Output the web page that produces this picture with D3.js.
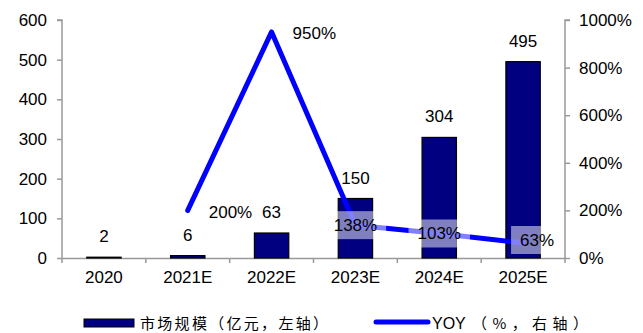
<!DOCTYPE html>
<html>
<head>
<meta charset="utf-8">
<script src="https://cdn.jsdelivr.net/npm/d3@7"></script>
<style>
  html, body { margin: 0; padding: 0; background: #fff; }
  svg text { font-family: "Liberation Sans", Arial, sans-serif; fill: #000; }
</style>
</head>
<body>
<svg id="chart" width="643" height="333"></svg>
<script>
// Market size (亿元) and YoY growth (%) by year
const categories = ["2020", "2021E", "2022E", "2023E", "2024E", "2025E"];
const marketSize = [2, 6, 63, 150, 304, 495];
const yoy = [null, 200, 950, 138, 103, 63];
const leftTicks = [0, 100, 200, 300, 400, 500, 600];
const rightTicks = [0, 200, 400, 600, 800, 1000];
const legendBar = "市场规模（亿元，左轴）";
const legendLineName = "YOY";
const legendLineNote = "（%，右轴）";

const svg = d3.select("#chart");
const plotLeft = 62, plotRight = 565, plotTop = 20, plotBottom = 258;
const axisColor = "#999999";
const fontSize = 17;
const cjkFont = "'Noto Sans CJK SC', sans-serif";

const x = d3.scaleBand().domain(categories).range([plotLeft, plotRight]).padding(0);
const yL = d3.scaleLinear().domain([0, 600]).range([plotBottom, plotTop]);
const yR = d3.scaleLinear().domain([0, 1000]).range([plotBottom, plotTop]);
const barW = x.bandwidth() * 0.41;
const cx = d => x(d) + x.bandwidth() / 2;

// Axes
const gL = svg.append("g").attr("transform", `translate(${plotLeft},0)`)
  .call(d3.axisLeft(yL).tickValues(leftTicks).tickSize(5).tickPadding(10));
const gR = svg.append("g").attr("transform", `translate(${plotRight},0)`)
  .call(d3.axisRight(yR).tickValues(rightTicks).tickSize(5).tickPadding(9)
    .tickFormat(d => d + "%"));
const gX = svg.append("g").attr("transform", `translate(0,${plotBottom})`)
  .call(d3.axisBottom(x).tickSize(0).tickPadding(13));
// category boundary ticks
gX.selectAll(".boundary").data(d3.range(categories.length + 1)).enter()
  .append("line").attr("class", "boundary")
  .attr("x1", i => plotLeft + i * x.bandwidth()).attr("x2", i => plotLeft + i * x.bandwidth())
  .attr("y1", 0).attr("y2", 5);

[gL, gR, gX].forEach(g => {
  g.selectAll("path.domain").attr("stroke", axisColor).attr("stroke-width", 1.5);
  g.selectAll("line").attr("stroke", axisColor).attr("stroke-width", 1.5);
  g.selectAll("text").attr("font-size", fontSize)
    .attr("font-family", "'Liberation Sans', Arial, sans-serif").attr("fill", "#000");
});
gL.select("path.domain").attr("d", `M-5,${plotTop}H0V${plotBottom}`);
gR.select("path.domain").attr("d", `M5,${plotTop}H0V${plotBottom}`);

// Bars
svg.append("g").selectAll("rect").data(categories).enter().append("rect")
  .attr("x", d => cx(d) - barW / 2)
  .attr("y", (d, i) => yL(marketSize[i]))
  .attr("width", barW)
  .attr("height", (d, i) => plotBottom - yL(marketSize[i]))
  .attr("fill", "#000080").attr("stroke", "#000").attr("stroke-width", 1.2);

// YoY line
const lineData = categories.map((c, i) => ({ c, v: yoy[i] })).filter(d => d.v != null);
svg.append("path").datum(lineData)
  .attr("d", d3.line().x(d => cx(d.c)).y(d => yR(d.v)))
  .attr("fill", "none").attr("stroke", "#0000FF").attr("stroke-width", 5)
  .attr("stroke-linecap", "round").attr("stroke-linejoin", "round");

// YoY labels: first two sit to the right of the point, the rest centred on it
const labelG = svg.append("g");
lineData.forEach((d, k) => {
  const px = cx(d.c), py = yR(d.v);
  const g = labelG.append("g");
  const t = g.append("text").text(d.v + "%").attr("font-size", fontSize)
    .attr("dominant-baseline", "central");
  if (k < 2) {
    t.attr("x", px + 21).attr("y", py + 2).attr("text-anchor", "start");
  } else {
    const shift = k === lineData.length - 1 ? 14 : 0;
    const lift = k === lineData.length - 1 ? -3 : 0;
    t.attr("x", px + shift).attr("y", py + lift).attr("text-anchor", "middle");
  }
  const bb = t.node().getBBox();
  g.insert("rect", "text")
    .attr("x", bb.x - 9).attr("y", bb.y + bb.height / 2 - 14)
    .attr("width", bb.width + 18).attr("height", 28)
    .attr("fill", "#fff").attr("fill-opacity", 0.5);
});

// Bar value labels
svg.append("g").selectAll("text").data(categories).enter().append("text")
  .attr("x", d => cx(d))
  .attr("y", (d, i) => yL(marketSize[i]) - 15)
  .attr("text-anchor", "middle").attr("font-size", fontSize)
  .text((d, i) => marketSize[i]);

// Legend
const legY = 322;
const leg = svg.append("g");
leg.append("rect").attr("x", 84).attr("y", 319).attr("width", 50).attr("height", 8)
  .attr("fill", "#000080").attr("stroke", "#000").attr("stroke-width", 1);
leg.append("text").attr("x", 140).attr("y", legY)
  .attr("dominant-baseline", "central").attr("font-size", 15)
  .attr("textLength", 188).attr("lengthAdjust", "spacing")
  .style("font-family", cjkFont).text(legendBar);
leg.append("line").attr("x1", 376).attr("x2", 428).attr("y1", legY).attr("y2", legY)
  .attr("stroke", "#0000FF").attr("stroke-width", 5).attr("stroke-linecap", "round");
leg.append("text").attr("x", 432).attr("y", legY + 1)
  .attr("dominant-baseline", "central").attr("font-size", 16)
  .text(legendLineName);
leg.append("text").attr("x", 472).attr("y", legY)
  .attr("dominant-baseline", "central").attr("font-size", 15)
  .attr("textLength", 116).attr("lengthAdjust", "spacing")
  .style("font-family", cjkFont).text(legendLineNote);
</script>
</body>
</html>
